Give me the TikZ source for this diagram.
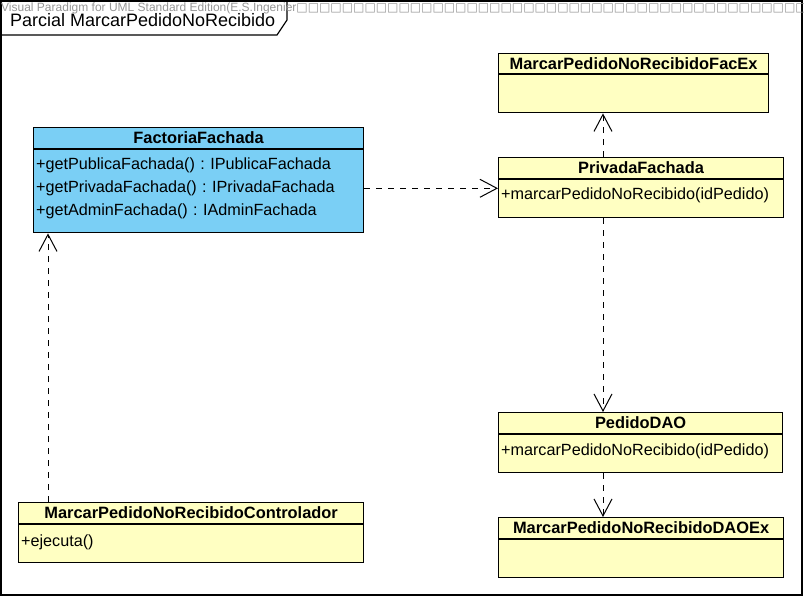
\documentclass[tikz,border=0pt]{standalone}
\usepackage{fontspec}
\setmainfont{Liberation Sans}
\newfontfamily\boxfont{DejaVu Sans}
\usetikzlibrary{arrows.meta,positioning}
\frenchspacing
\definecolor{vpyellow}{RGB}{255,255,194}
\definecolor{vpblue}{RGB}{122,207,245}
\definecolor{vpgray}{RGB}{150,150,150}
\tikzstyle{dep} = [line width=1pt, dash pattern=on 6pt off 6pt, -{Straight Barb[length=17pt,width=18pt]}]
\tikzstyle{classhead} = [rectangle, draw=black, line width=1.2pt, fill=vpyellow, anchor=north west, inner sep=0pt, minimum height=21pt, font=\fontsize{16.4}{19}\selectfont\bfseries]
\tikzstyle{classbody} = [rectangle, draw=black, line width=1.2pt, fill=vpyellow, inner xsep=2.5pt, inner ysep=0pt, align=left, text depth=8.5pt, font=\fontsize{16.2}{23}\selectfont]
\tikzstyle{frame} = [draw=black, line width=1.2pt]

\begin{document}
\begin{tikzpicture}[x=1pt, y=-1pt]
\useasboundingbox (0,0) rectangle (804,597);
% Frame and tab
\draw[frame] (1,1) rectangle (802,595);
\draw[frame] (1,35) -- (277,35) -- (287,20) -- (287,1);
\node (title) [anchor=base west, inner sep=0pt, font=\fontsize{18}{20}\selectfont] at (10,26) {Parcial MarcarPedidoNoRecibido};
\node (mark) [anchor=base west, inner sep=0pt, text=vpgray, font=\fontsize{12}{14}\selectfont] at (1,11) {Visual Paradigm for UML Standard Edition(E.S.Ingenier{\boxfont □□□□□□□□□□□□□□□□□□□□□□□□□□□□□□□□□□□□□□□□□□□□□□□□□□□}};

% Classes
\node (fachead) [classhead, fill=vpblue, minimum width=330pt] at (33,127) {FactoriaFachada};
\node (facbody) [classbody, fill=vpblue, text width=325pt, minimum height=83pt, text depth=55pt, below=0pt of fachead] {+getPublicaFachada() : IPublicaFachada\\+getPrivadaFachada() : IPrivadaFachada\\+getAdminFachada() : IAdminFachada};

\node (facexhead) [classhead, minimum width=270pt, minimum height=20pt] at (498,53) {MarcarPedidoNoRecibidoFacEx};
\node (facexbody) [classbody, text width=265pt, minimum height=38pt, below=0pt of facexhead] {};

\node (privhead) [classhead, minimum width=285pt, minimum height=21pt] at (498,157) {PrivadaFachada};
\node (privbody) [classbody, text width=280pt, minimum height=38pt, text depth=10pt, below=0pt of privhead] {+marcarPedidoNoRecibido(idPedido)};

\node (daohead) [classhead, minimum width=284pt] at (498,412) {PedidoDAO};
\node (daobody) [classbody, text width=279pt, minimum height=38pt, below=0pt of daohead] {+marcarPedidoNoRecibido(idPedido)};

\node (daoexhead) [classhead, minimum width=285pt] at (498,517) {MarcarPedidoNoRecibidoDAOEx};
\node (daoexbody) [classbody, text width=280pt, minimum height=38pt, below=0pt of daoexhead] {};

\node (ctrlhead) [classhead, minimum width=345pt] at (18,502) {MarcarPedidoNoRecibidoControlador};
\node (ctrlbody) [classbody, text width=340pt, minimum height=38pt, text depth=6pt, below=0pt of ctrlhead] {+ejecuta()};

% Dependencies
\coordinate (facout) at ([yshift=3pt]facbody.east);
\coordinate (privtop) at ([xshift=105pt]privhead.north west);
\coordinate (privbot) at ([xshift=105pt]privbody.south west);
\coordinate (daobot) at ([xshift=105pt]daobody.south west);
\coordinate (ctrltop) at ([xshift=30pt]ctrlhead.north west);
\draw[dep] (facout) -- (facout -| privbody.west);
\draw[dep] (privtop) -- (privtop |- facexbody.south);
\draw[dep] (privbot) -- (privbot |- daohead.north);
\draw[dep] (daobot) -- (daobot |- daoexhead.north);
\draw[dep] (ctrltop) -- (ctrltop |- facbody.south);
\end{tikzpicture}
\end{document}
